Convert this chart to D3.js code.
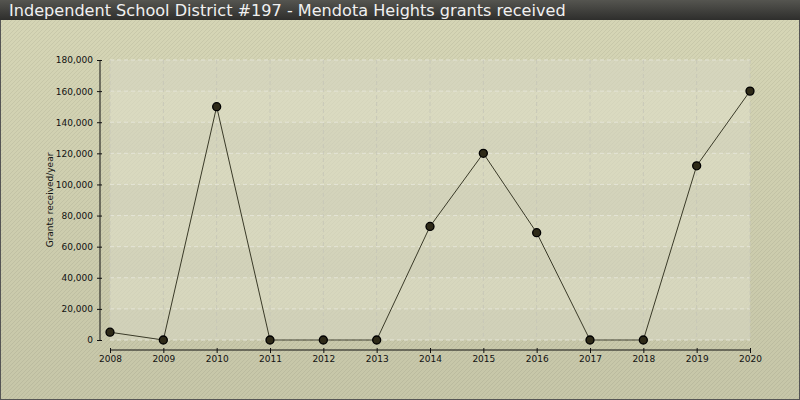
<!DOCTYPE html>
<html><head><meta charset="utf-8">
<script src="https://cdn.jsdelivr.net/npm/d3@7"></script>
<style>body{margin:0;padding:0;background:#fff}svg{display:block}</style>
</head><body>
<script>
const title = "Independent School District #197 - Mendota Heights grants received";
const yLabel = "Grants received/year";
const years = [2008,2009,2010,2011,2012,2013,2014,2015,2016,2017,2018,2019,2020];
const grants = [5000,0,150000,0,0,0,73000,120000,69000,0,0,112000,160000];
const yTicks = [0,20000,40000,60000,80000,100000,120000,140000,160000,180000];

const W=800,H=400;
const svg=d3.select("body").append("svg").attr("width",W).attr("height",H);
const defs=svg.append("defs");
const bg=defs.append("linearGradient").attr("id","bg").attr("x1",0).attr("y1",0).attr("x2",0).attr("y2",1);
bg.append("stop").attr("offset","0").attr("stop-color","#d6d6b6");
bg.append("stop").attr("offset","1").attr("stop-color","#c6c6a8");
const tb=defs.append("linearGradient").attr("id","tb").attr("x1",0).attr("y1",0).attr("x2",0).attr("y2",1);
tb.append("stop").attr("offset","0").attr("stop-color","#555550");
tb.append("stop").attr("offset","1").attr("stop-color","#2e2e2c");
const pat=defs.append("pattern").attr("id","stripes").attr("width",4).attr("height",4).attr("patternUnits","userSpaceOnUse");
pat.append("path").attr("d","M-1,1 l2,-2 M0,4 l4,-4 M3,5 l2,-2").attr("stroke","#000").attr("stroke-opacity",0.06).attr("stroke-width",1);

svg.append("rect").attr("width",W).attr("height",H).attr("fill","url(#bg)");
svg.append("rect").attr("width",W).attr("height",H).attr("fill","url(#stripes)");
svg.append("rect").attr("x",0.5).attr("y",0.5).attr("width",W-1).attr("height",H-1).attr("fill","none").attr("stroke","#555").attr("stroke-width",1);

svg.append("rect").attr("width",W).attr("height",20).attr("fill","url(#tb)");
svg.append("text").attr("x",9).attr("y",16).attr("fill","#f0f0f0").attr("font-family","DejaVu Sans").attr("font-size",16.1).text(title);

const x=d3.scaleLinear().domain([years[0],years[years.length-1]]).range([110,750]);
const y=d3.scaleLinear().domain([0,180000]).range([340,60]);

svg.append("rect").attr("x",110).attr("y",60).attr("width",640).attr("height",280).attr("fill","#dfdfca").attr("fill-opacity",0.6);
for(let i=0;i<yTicks.length-1;i++){
  if(i%2===0){
    svg.append("rect").attr("x",110).attr("y",y(yTicks[i+1])).attr("width",640).attr("height",y(yTicks[i])-y(yTicks[i+1])).attr("fill","#000").attr("fill-opacity",0.02);
  }
}
const g=svg.append("g");
g.selectAll("line.h").data(yTicks).join("line").attr("x1",110).attr("x2",750).attr("y1",d=>y(d)).attr("y2",d=>y(d))
 .attr("stroke","#e4e4d6").attr("stroke-width",1).attr("stroke-dasharray","4,3");
g.selectAll("line.v").data(years).join("line").attr("y1",60).attr("y2",340).attr("x1",d=>x(d)).attr("x2",d=>x(d))
 .attr("stroke","#c8c8b8").attr("stroke-width",1).attr("stroke-dasharray","4,3");

const fmt=d3.format(",");
const ya=svg.append("g").attr("transform","translate(100,0)").call(d3.axisLeft(y).tickValues(yTicks).tickFormat(fmt).tickSize(3).tickPadding(4));
const xa=svg.append("g").attr("transform","translate(0,350)").call(d3.axisBottom(x).tickValues(years).tickFormat(d3.format("d")).tickSize(3).tickPadding(3));
[ya,xa].forEach(a=>{a.selectAll("text").attr("font-family","DejaVu Sans").attr("font-size",9).attr("fill","#111");
  a.selectAll("path,line").attr("stroke","#111");});
ya.select(".domain").attr("d","M0,60.5V340.5");
xa.select(".domain").attr("d","M110.5,0H750.5");
xa.selectAll(".tick line").attr("y1",-2).attr("y2",3);
ya.selectAll(".tick line").attr("x1",-3).attr("x2",2);

svg.append("text").attr("transform","translate(53,200) rotate(-90)").attr("text-anchor","middle").attr("font-family","DejaVu Sans").attr("font-size",9).attr("fill","#111").text(yLabel);

const data=years.map((d,i)=>({year:d,v:grants[i]}));
svg.append("path").datum(data).attr("d",d3.line().x(d=>x(d.year)).y(d=>y(d.v))).attr("fill","none").attr("stroke","#3a3a28").attr("stroke-width",1);
svg.selectAll("circle.pt").data(data).join("circle").attr("cx",d=>x(d.year)).attr("cy",d=>y(d.v)).attr("r",4)
 .attr("fill","#2e2a18").attr("stroke","#000").attr("stroke-width",1.3);
</script>
</body></html>
